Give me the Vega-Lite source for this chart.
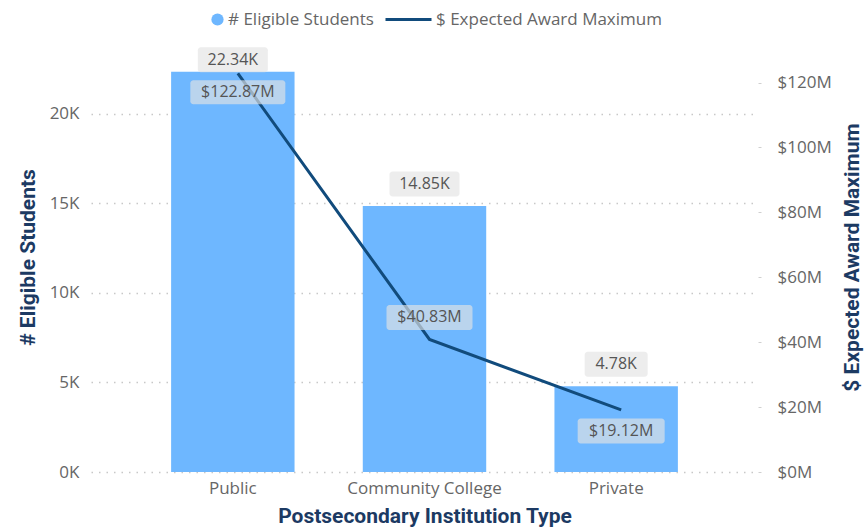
{
  "$schema": "https://vega.github.io/schema/vega-lite/v6.json",
  "width": 667,
  "height": 430,
  "autosize": {"type": "none"},
  "padding": {"left": 91, "top": 42, "right": 109, "bottom": 57},
  "background": "white",
  "config": {"view": {"stroke": null}, "font": "Open Sans"},
  "data": {"values": [
    {"type": "Public", "students": 22340, "award": 122870000},
    {"type": "Community College", "students": 14850, "award": 40830000},
    {"type": "Private", "students": 4780, "award": 19120000}
  ]},
  "encoding": {
    "x": {
      "field": "type", "type": "nominal", "sort": null,
      "scale": {"paddingInner": 0.356, "paddingOuter": 0.418},
      "axis": {
        "title": "Postsecondary Institution Type", "labelAngle": 0, "domain": false, "ticks": false,
        "labelPadding": 8, "labelFontSize": 17, "labelColor": "#666666", "labelFont": "Open Sans",
        "titleFontSize": 21, "titleFont": "Roboto", "titleFontWeight": "bold", "titleColor": "#1C3A63", "titlePadding": 9
      }
    }
  },
  "layer": [
    {
      "encoding": {
        "y": {
          "field": "students", "type": "quantitative",
          "scale": {"domain": [0, 24000], "nice": false},
          "axis": {
            "orient": "left", "values": [0, 5000, 10000, 15000, 20000],
            "labelExpr": "datum.value / 1000 + 'K'",
            "grid": true, "gridDash": [1.5, 6], "gridColor": "#C8C8C8", "gridWidth": 1.5,
            "domain": false, "ticks": false, "labelPadding": 12, "labelFontSize": 17, "labelColor": "#666666",
            "title": "# Eligible Students", "titleFont": "Roboto", "titleFontWeight": "bold", "titleFontSize": 21,
            "titleColor": "#1C3A63", "titlePadding": 11
          }
        }
      },
      "layer": [
        {
          "mark": {"type": "bar"},
          "encoding": {
            "color": {
              "datum": "# Eligible Students",
              "scale": {"range": ["#6EB7FF"]},
              "legend": {
                "orient": "none", "legendX": 118, "legendY": -31, "title": null,
                "symbolType": "circle", "symbolSize": 150, "labelFontSize": 17, "labelColor": "#666666",
                "labelOffset": 2, "labelLimit": 400, "direction": "horizontal"
              }
            }
          }
        },
        {
          "transform": [{"filter": "datum.type === 'Public'"}],
          "layer": [
            {"mark": {"type": "rect", "width": 70, "height": 25, "yOffset": -12, "cornerRadius": 3, "color": "#E4E4E4", "opacity": 0.65}},
            {"mark": {"type": "text", "yOffset": -12, "fontSize": 16, "color": "#555555", "text": {"expr": "format(datum.students / 1000, '.2f') + 'K'"}}}
          ]
        },
        {
          "transform": [{"filter": "datum.type === 'Community College'"}],
          "layer": [
            {"mark": {"type": "rect", "width": 70, "height": 25, "yOffset": -22, "cornerRadius": 3, "color": "#E4E4E4", "opacity": 0.65}},
            {"mark": {"type": "text", "yOffset": -22, "fontSize": 16, "color": "#555555", "text": {"expr": "format(datum.students / 1000, '.2f') + 'K'"}}}
          ]
        },
        {
          "transform": [{"filter": "datum.type === 'Private'"}],
          "layer": [
            {"mark": {"type": "rect", "width": 63, "height": 25, "yOffset": -22, "cornerRadius": 3, "color": "#E4E4E4", "opacity": 0.65}},
            {"mark": {"type": "text", "yOffset": -22, "fontSize": 16, "color": "#555555", "text": {"expr": "format(datum.students / 1000, '.2f') + 'K'"}}}
          ]
        }
      ]
    },
    {
      "encoding": {
        "y": {
          "field": "award", "type": "quantitative",
          "scale": {"domain": [0, 132500000], "nice": false},
          "axis": {
            "orient": "right", "values": [0, 20000000, 40000000, 60000000, 80000000, 100000000, 120000000],
            "labelExpr": "'$' + (datum.value / 1000000) + 'M'",
            "grid": false, "domain": false, "ticks": true, "tickSize": 3, "tickColor": "#D0D0D0",
            "labelPadding": 16, "labelFontSize": 17, "labelColor": "#666666",
            "title": "$ Expected Award Maximum", "titleFont": "Roboto", "titleFontWeight": "bold", "titleFontSize": 21,
            "titleColor": "#1C3A63", "titlePadding": 31, "titleAngle": 270
          }
        }
      },
      "layer": [
        {
          "mark": {"type": "line", "strokeWidth": 3, "xOffset": 5},
          "encoding": {
            "stroke": {
              "datum": "$ Expected Award Maximum",
              "scale": {"range": ["#114B7C"]},
              "legend": {
                "orient": "none", "legendX": 293, "legendY": -47, "title": null,
                "symbolType": "stroke", "symbolSize": 2116, "symbolStrokeWidth": 3,
                "labelFontSize": 17, "labelColor": "#666666", "labelOffset": 3, "labelLimit": 400, "direction": "horizontal"
              }
            }
          }
        },
        {
          "transform": [{"filter": "datum.type === 'Public'"}],
          "layer": [
            {"mark": {"type": "rect", "width": 95, "height": 24, "yOffset": 19, "xOffset": 5, "cornerRadius": 3, "color": "#E4E4E4", "opacity": 0.65}},
            {"mark": {"type": "text", "yOffset": 19, "xOffset": 5, "fontSize": 16, "color": "#555555", "text": {"expr": "'$' + format(datum.award / 1000000, '.2f') + 'M'"}}}
          ]
        },
        {
          "transform": [{"filter": "datum.type === 'Community College'"}],
          "layer": [
            {"mark": {"type": "rect", "width": 86, "height": 25, "yOffset": -22, "xOffset": 5, "cornerRadius": 3, "color": "#E4E4E4", "opacity": 0.65}},
            {"mark": {"type": "text", "yOffset": -22, "xOffset": 5, "fontSize": 16, "color": "#555555", "text": {"expr": "'$' + format(datum.award / 1000000, '.2f') + 'M'"}}}
          ]
        },
        {
          "transform": [{"filter": "datum.type === 'Private'"}],
          "layer": [
            {"mark": {"type": "rect", "width": 87, "height": 25, "yOffset": 21, "xOffset": 5, "cornerRadius": 3, "color": "#E4E4E4", "opacity": 0.65}},
            {"mark": {"type": "text", "yOffset": 21, "xOffset": 5, "fontSize": 16, "color": "#555555", "text": {"expr": "'$' + format(datum.award / 1000000, '.2f') + 'M'"}}}
          ]
        }
      ]
    }
  ],
  "resolve": {"scale": {"y": "independent"}}
}
